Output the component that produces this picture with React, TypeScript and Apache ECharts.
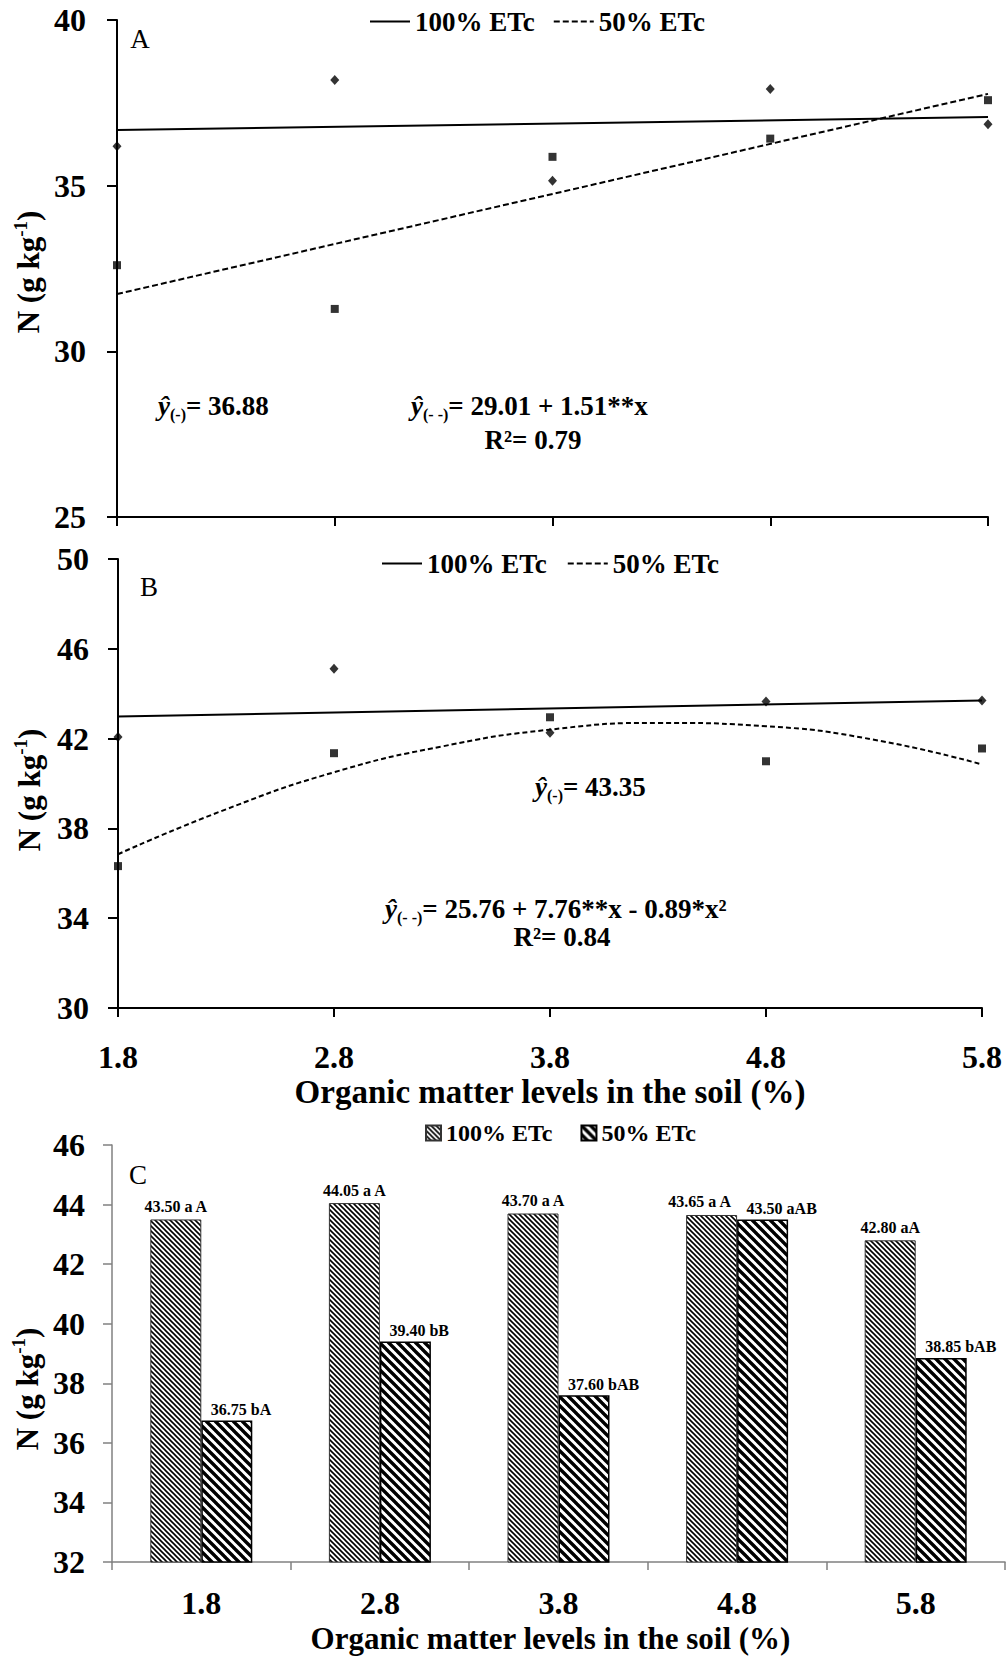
import React, { useEffect, useRef } from 'react';
import * as echarts from 'echarts';

// ---------- data ----------
const omLevels = [1.8, 2.8, 3.8, 4.8, 5.8];
const categoriesC = ['1.8', '2.8', '3.8', '4.8', '5.8'];

// Panel A (observed)
const a100 = [36.19, 38.19, 35.15, 37.92, 36.85];
const a50 = [32.6, 31.28, 35.87, 36.42, 37.58];
// Panel A fitted lines
const aTrend100 = [[1.8, 36.68], [5.8, 37.07]];
const aTrend50 = [[1.8, 31.73], [5.8, 37.77]];

// Panel B (observed)
const b100 = [42.07, 45.11, 42.26, 43.65, 43.7];
const b50 = [36.32, 41.35, 42.95, 40.99, 41.56];
// Panel B fitted lines
const bTrend100 = [[1.8, 42.98], [5.8, 43.7]];
const bCurve50 = [
  [1.8, 36.85], [2.3, 38.85], [2.8, 40.5], [3.3, 41.65], [3.8, 42.4],
  [4.3, 42.7], [4.8, 42.55], [5.3, 41.95], [5.8, 40.85],
];

// Panel C (bars)
const c100 = [43.5, 44.05, 43.7, 43.65, 42.8];
const c50 = [36.75, 39.4, 37.6, 43.5, 38.85];
const c100Labels = ['43.50 a A', '44.05 a A', '43.70 a A', '43.65 a A', '42.80 aA'];
const c50Labels = ['36.75 bA', '39.40 bB', '37.60 bAB', '43.50 aAB', '38.85 bAB'];

// tick values
const ticksA = [25, 30, 35, 40];
const ticksB = [30, 34, 38, 42, 46, 50];
const ticksC = [32, 34, 36, 38, 40, 42, 44, 46];

// layout-only: horizontal label nudges for panel C
const shift100 = [0, 0, 0, -12, 0];

const FONT = 'Liberation Serif';

function hatch(p: number, w: number) {
  const svg =
    `<svg xmlns="http://www.w3.org/2000/svg" width="${p}" height="${p}">` +
    `<rect width="${p}" height="${p}" fill="#ffffff"/>` +
    `<path d="M-1,-1L${p + 1},${p + 1}M${p - 1},-1L${p + 1},1M-1,${p - 1}L1,${p + 1}" stroke="#000000" stroke-width="${w}"/>` +
    `</svg>`;
  return {
    image: 'data:image/svg+xml;charset=utf-8,' + encodeURIComponent(svg),
    repeat: 'repeat',
    imageWidth: p,
    imageHeight: p,
  };
}

const EQ = 27;
const richEq = {
  yh: { fontFamily: FONT, fontSize: EQ, fontWeight: 'bold', fontStyle: 'italic', lineHeight: 32 },
  sub: { fontFamily: FONT, fontSize: 16, fontWeight: 'bold', verticalAlign: 'bottom', lineHeight: 16 },
};

function eqText(text: string, x: number, y: number, align: string) {
  return {
    type: 'text',
    x,
    y,
    style: {
      text,
      align,
      verticalAlign: 'middle',
      fontFamily: FONT,
      fontSize: EQ,
      fontWeight: 'bold',
      lineHeight: 32,
      fill: '#000',
      rich: richEq,
    },
  };
}

function yName(x: number, y: number) {
  return {
    type: 'text',
    x,
    y,
    rotation: Math.PI / 2,
    style: {
      text: 'N (g kg{sup|-1})',
      align: 'center',
      verticalAlign: 'middle',
      fontFamily: FONT,
      fontSize: 31,
      fontWeight: 'bold',
      lineHeight: 36,
      fill: '#000',
      rich: {
        sup: { fontFamily: FONT, fontSize: 19, fontWeight: 'bold', verticalAlign: 'top', lineHeight: 19 },
      },
    },
  };
}

function panelLetter(t: string, x: number, y: number) {
  return {
    type: 'text',
    x,
    y,
    style: {
      text: t,
      align: 'center',
      verticalAlign: 'middle',
      fontFamily: FONT,
      fontSize: 27,
      fill: '#000',
    },
  };
}

function buildOption() {
  const blackAxis = { show: true, onZero: false, lineStyle: { color: '#000', width: 2 } };
  const greyAxis = { show: true, onZero: false, lineStyle: { color: '#808080', width: 1.5 } };
  const tickLabel = { fontFamily: FONT, fontSize: 32, fontWeight: 'bold', color: '#000' };
  const legendText = { fontFamily: FONT, fontSize: 27, fontWeight: 'bold', color: '#000' };
  const hiddenSymbol = { opacity: 0, color: 'rgba(0,0,0,0)', borderWidth: 0 };

  const pts = (ys: number[]) => omLevels.map((x, i) => [x, ys[i]]);

  return {
    animation: false,
    backgroundColor: '#ffffff',
    grid: [
      { left: 117, top: 20, width: 871, height: 497, containLabel: false, outerBoundsMode: 'none' },
      { left: 118, top: 559, width: 864, height: 449, containLabel: false, outerBoundsMode: 'none' },
      { left: 112, top: 1145, width: 893, height: 417, containLabel: false, outerBoundsMode: 'none' },
    ],
    legend: [
      {
        data: ['100% ETc', '50% ETc'],
        left: 369,
        top: 8,
        padding: 0,
        itemWidth: 40,
        itemHeight: 14,
        itemGap: 18,
        selectedMode: false,
        itemStyle: hiddenSymbol,
        textStyle: legendText,
      },
      {
        data: ['100% ETc', '50% ETc'],
        left: 381,
        top: 550,
        padding: 0,
        itemWidth: 40,
        itemHeight: 14,
        itemGap: 20,
        selectedMode: false,
        itemStyle: hiddenSymbol,
        textStyle: legendText,
      },
      {
        data: ['100% ETc ', '50% ETc '],
        left: 425,
        top: 1121,
        padding: 0,
        itemWidth: 15,
        itemHeight: 15,
        itemGap: 28,
        icon: 'rect',
        selectedMode: false,
        formatter: (n: string) => n.trim(),
        textStyle: { ...legendText, fontSize: 24 },
      },
    ],
    xAxis: [
      {
        gridIndex: 0,
        type: 'value',
        min: 1.8,
        max: 5.8,
        interval: 1,
        axisLine: blackAxis,
        axisTick: { show: true, length: 9, lineStyle: { color: '#000', width: 2 }, customValues: omLevels },
        axisLabel: { show: false, customValues: omLevels },
        splitLine: { show: false },
      },
      {
        gridIndex: 1,
        type: 'value',
        min: 1.8,
        max: 5.8,
        interval: 1,
        axisLine: blackAxis,
        axisTick: { show: true, length: 9, lineStyle: { color: '#000', width: 2 }, customValues: omLevels },
        axisLabel: { ...tickLabel, margin: 33, customValues: omLevels, formatter: (v: number) => v.toFixed(1) },
        splitLine: { show: false },
        name: 'Organic matter levels in the soil (%)',
        nameLocation: 'middle',
        nameGap: 67,
        nameTextStyle: { fontFamily: FONT, fontSize: 33, fontWeight: 'bold', color: '#000' },
      },
      {
        gridIndex: 2,
        type: 'category',
        data: categoriesC,
        axisLine: greyAxis,
        axisTick: { show: true, length: 8, alignWithLabel: false, lineStyle: { color: '#808080', width: 1.5 } },
        axisLabel: { ...tickLabel, margin: 25 },
        splitLine: { show: false },
        name: 'Organic matter levels in the soil (%)',
        nameLocation: 'middle',
        nameGap: 61,
        nameTextStyle: { fontFamily: FONT, fontSize: 31, fontWeight: 'bold', color: '#000', padding: [0, 16, 0, 0] },
      },
    ],
    yAxis: [
      {
        gridIndex: 0,
        type: 'value',
        min: 25,
        max: 40,
        interval: 5,
        axisLine: blackAxis,
        axisTick: { show: true, length: 10, lineStyle: { color: '#000', width: 2 }, customValues: ticksA },
        axisLabel: { ...tickLabel, margin: 31, customValues: ticksA },
        splitLine: { show: false },
      },
      {
        gridIndex: 1,
        type: 'value',
        min: 30,
        max: 50,
        interval: 4,
        axisLine: blackAxis,
        axisTick: { show: true, length: 10, lineStyle: { color: '#000', width: 2 }, customValues: ticksB },
        axisLabel: { ...tickLabel, margin: 29, customValues: ticksB },
        splitLine: { show: false },
      },
      {
        gridIndex: 2,
        type: 'value',
        min: 32,
        max: 46,
        interval: 2,
        axisLine: greyAxis,
        axisTick: { show: true, length: 9, lineStyle: { color: '#808080', width: 1.5 }, customValues: ticksC },
        axisLabel: { ...tickLabel, margin: 27, customValues: ticksC },
        splitLine: { show: false },
      },
    ],
    series: [
      // ---- Panel A ----
      {
        name: '100% ETc',
        type: 'line',
        xAxisIndex: 0,
        yAxisIndex: 0,
        data: aTrend100,
        symbol: 'none',
        lineStyle: { color: '#000', width: 2, type: 'solid' },
        itemStyle: { color: '#000' },
      },
      {
        name: '50% ETc',
        type: 'line',
        xAxisIndex: 0,
        yAxisIndex: 0,
        data: aTrend50,
        symbol: 'none',
        lineStyle: { color: '#000', width: 2, type: [6, 3] },
        itemStyle: { color: '#000' },
      },
      {
        name: 'A obs 100',
        type: 'scatter',
        xAxisIndex: 0,
        yAxisIndex: 0,
        data: pts(a100),
        symbol: 'diamond',
        symbolSize: [9, 10],
        itemStyle: { color: '#000' },
      },
      {
        name: 'A obs 50',
        type: 'scatter',
        xAxisIndex: 0,
        yAxisIndex: 0,
        data: pts(a50),
        symbol: 'rect',
        symbolSize: 8,
        itemStyle: { color: '#000' },
      },
      // ---- Panel B ----
      {
        name: '100% ETc',
        type: 'line',
        xAxisIndex: 1,
        yAxisIndex: 1,
        data: bTrend100,
        symbol: 'none',
        lineStyle: { color: '#000', width: 2, type: 'solid' },
        itemStyle: { color: '#000' },
      },
      {
        name: '50% ETc',
        type: 'line',
        xAxisIndex: 1,
        yAxisIndex: 1,
        data: bCurve50,
        smooth: true,
        symbol: 'none',
        lineStyle: { color: '#000', width: 2, type: [5, 3] },
        itemStyle: { color: '#000' },
      },
      {
        name: 'B obs 100',
        type: 'scatter',
        xAxisIndex: 1,
        yAxisIndex: 1,
        data: pts(b100),
        symbol: 'diamond',
        symbolSize: [9, 10],
        itemStyle: { color: '#000' },
      },
      {
        name: 'B obs 50',
        type: 'scatter',
        xAxisIndex: 1,
        yAxisIndex: 1,
        data: pts(b50),
        symbol: 'rect',
        symbolSize: 8,
        itemStyle: { color: '#000' },
      },
      // ---- Panel C ----
      {
        name: '100% ETc ',
        type: 'bar',
        xAxisIndex: 2,
        yAxisIndex: 2,
        barWidth: 51,
        barGap: '0%',
        data: c100.map((v, i) => ({ value: v, label: { offset: [shift100[i], 0] } })),
        itemStyle: { color: hatch(5, 1.6), borderColor: '#333', borderWidth: 1 },
        label: {
          show: true,
          position: 'top',
          distance: 5,
          formatter: (p: any) => c100Labels[p.dataIndex],
          fontFamily: FONT,
          fontSize: 16,
          fontWeight: 'bold',
          color: '#000',
        },
      },
      {
        name: '50% ETc ',
        type: 'bar',
        xAxisIndex: 2,
        yAxisIndex: 2,
        barWidth: 51,
        barGap: '0%',
        data: c50,
        itemStyle: { color: hatch(9, 3.4), borderColor: '#000', borderWidth: 1.5 },
        label: {
          show: true,
          position: 'top',
          distance: 3,
          align: 'left',
          offset: [-16, 0],
          formatter: (p: any) => c50Labels[p.dataIndex],
          fontFamily: FONT,
          fontSize: 16,
          fontWeight: 'bold',
          color: '#000',
        },
      },
    ],
    graphic: [
      panelLetter('A', 140, 39),
      panelLetter('B', 149, 587),
      panelLetter('C', 138, 1175),
      yName(28.5, 272),
      yName(29, 790),
      yName(27, 1389),
      eqText('{yh|ŷ}{sub|(-)}= 36.88', 158, 406, 'left'),
      eqText('{yh|ŷ}{sub|(- -)}= 29.01 + 1.51**x', 411, 406, 'left'),
      eqText('R²= 0.79', 533, 440, 'center'),
      eqText('{yh|ŷ}{sub|(-)}= 43.35', 535, 787, 'left'),
      eqText('{yh|ŷ}{sub|(- -)}= 25.76 + 7.76**x - 0.89*x²', 385, 909, 'left'),
      eqText('R²= 0.84', 562, 937, 'center'),
    ],
  };
}

export default function App() {
  const ref = useRef<HTMLDivElement>(null);
  useEffect(() => {
    document.body.style.margin = '0';
    const chart = echarts.init(ref.current as HTMLDivElement, null, { renderer: 'svg' });
    chart.setOption(buildOption() as any);
    return () => {
      chart.dispose();
    };
  }, []);
  return <div ref={ref} style={{ width: 1008, height: 1658 }} />;
}
